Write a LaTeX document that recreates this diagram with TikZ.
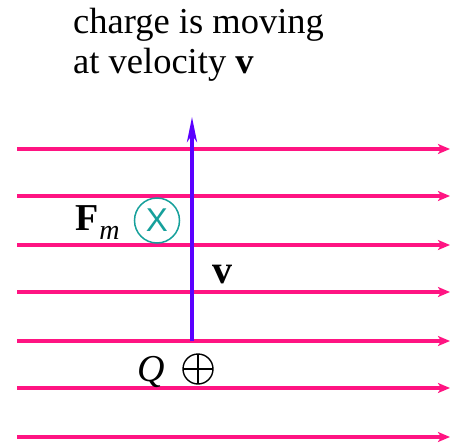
\documentclass[tikz,border=0pt]{standalone}
\usepackage{fontspec}
\setmainfont{Liberation Serif}
\newfontfamily\sansx{Liberation Sans}
\usetikzlibrary{arrows.meta}
\definecolor{fieldpink}{RGB}{255,20,130}
\definecolor{velblue}{RGB}{90,0,255}
\definecolor{forceteal}{RGB}{22,160,155}
\tikzset{
  fieldline/.style={draw=fieldpink, line width=3.4pt, -{Stealth[length=12pt,width=10pt,inset=3pt]}},
  velarrow/.style={draw=velblue, line width=3.6pt, -{Stealth[length=25pt,width=10pt,inset=7pt]}},
  lbl/.style={inner sep=0pt, font=\fontsize{36.5}{42}\selectfont},
}
\begin{document}
\begin{tikzpicture}[x=1pt,y=1pt]
\useasboundingbox (0,0) rectangle (450,-442);
% field lines
\foreach \yy/\nm in {149/a,196/b,245/c,292/d,341/e,388/f,437/g}{
  \coordinate (L\nm) at (17,-\yy);
  \coordinate (R\nm) at (450,-\yy);
  \draw[fieldline] (L\nm) -- (R\nm);
}
% velocity arrow
\coordinate (vstart) at (192,-341);
\coordinate (vend) at (192,-117);
\draw[velarrow] (vstart) -- (vend);
% title text
\node[lbl, anchor=base west] (t1) at (73,-33) {charge is moving};
\node[lbl, anchor=base west] (t2) at (73,-73) {at velocity \textbf{v}};
% force label
\node[lbl, anchor=base west] (fm) at (75,-230) {\fontsize{38}{42}\selectfont\textbf{F}\kern1pt\raisebox{-9pt}{\fontsize{28}{28}\selectfont\itshape m}};
\node[circle, draw=forceteal, line width=1.5pt, minimum size=45pt, inner sep=0pt,
      text=forceteal, font=\sansx\fontsize{33}{33}\selectfont] (fx) at (157,-220.5) {X};
% velocity label
\node[lbl, anchor=base west, font=\fontsize{40}{42}\selectfont] (vl) at (212,-283) {\textbf{v}};
% charge
\node[lbl, anchor=base west, font=\fontsize{38}{42}\selectfont] (q) at (137,-381) {\itshape Q};
\node[circle, draw=black, line width=1.4pt, minimum size=30pt, inner sep=0pt,
      path picture={\draw[line width=1.4pt] (path picture bounding box.north) -- (path picture bounding box.south)
                    (path picture bounding box.west) -- (path picture bounding box.east);}] (qp) at (198,-369) {};
\end{tikzpicture}
\end{document}
